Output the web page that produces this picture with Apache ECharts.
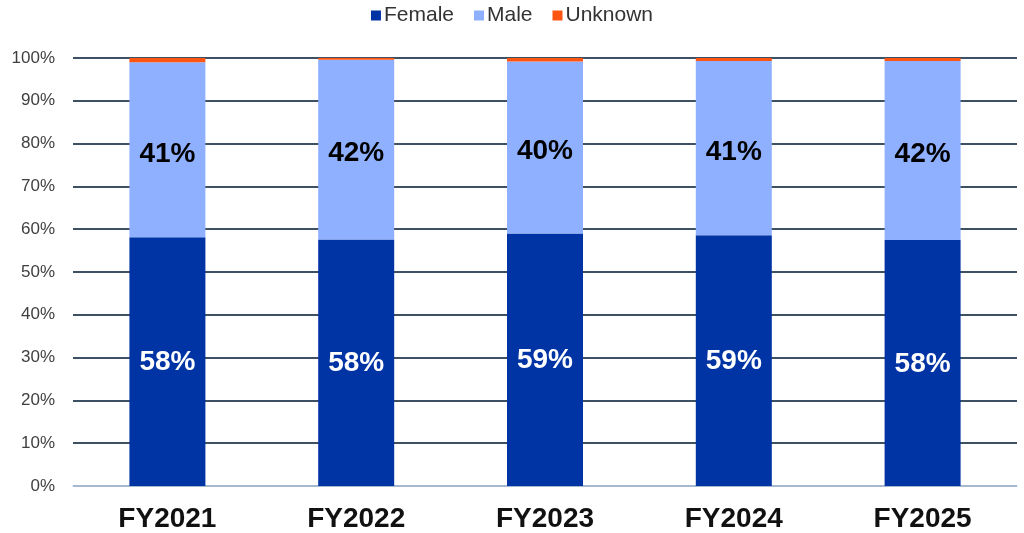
<!DOCTYPE html>
<html><head><meta charset="utf-8">
<script src="https://cdn.jsdelivr.net/npm/echarts@6/dist/echarts.min.js"></script>
<style>html,body{margin:0;padding:0;background:#fff}#c{width:1024px;height:533px}</style>
</head><body><div id="c"></div>
<script>
const categories = ['FY2021','FY2022','FY2023','FY2024','FY2025'];
const female = [58.1, 57.6, 59.0, 58.6, 57.5];
const male = [40.9, 42.0, 40.2, 40.7, 41.8];
const unknown = [1.0, 0.4, 0.8, 0.7, 0.7];
const yTicks = [0,10,20,30,40,50,60,70,80,90,100];

const FONT = 'Liberation Sans, Arial, sans-serif';
const chart = echarts.init(document.getElementById('c'));
const lbl = (color, off) => ({
  show: true, position: 'inside', color: color, fontFamily: FONT,
  fontWeight: 'bold', fontSize: 28, offset: off,
  formatter: p => Math.round(p.value) + '%'
});
chart.setOption({
  animation: false,
  legend: {
    top: 0, left: 'center', itemWidth: 10, itemHeight: 10, itemGap: 20, icon: 'rect',
    textStyle: { fontFamily: FONT, fontSize: 21, color: '#333', padding: [0,0,0,-2] },
    data: ['Female','Male','Unknown']
  },
  grid: { left: 73, right: 7, top: 58, bottom: 47 },
  xAxis: {
    type: 'category', data: categories,
    axisLine: { lineStyle: { color: '#c6dcf5', width: 1.5 } },
    axisTick: { show: false },
    axisLabel: { color: '#111', fontWeight: 'bold', fontSize: 28, margin: 19, fontFamily: FONT }
  },
  yAxis: {
    type: 'value', min: 0, max: 100, interval: 10,
    axisLabel: { color: '#404040', fontSize: 17, margin: 18, fontFamily: FONT,
      formatter: v => yTicks.includes(v) ? v + '%' : '' },
    splitLine: { lineStyle: { color: '#3e5063', width: 2 } },
    axisLine: { show: false }, axisTick: { show: false }
  },
  series: [
    { name: 'Female', type: 'bar', stack: 's', data: female, barWidth: 76,
      itemStyle: { color: '#0033a3' }, label: lbl('#ffffff', [0, 1]) },
    { name: 'Male', type: 'bar', stack: 's', data: male, barWidth: 76,
      itemStyle: { color: '#8fb0ff' }, label: lbl('#000000', [0, 4]) },
    { name: 'Unknown', type: 'bar', stack: 's', data: unknown, barWidth: 76,
      itemStyle: { color: '#ff5512' } }
  ]
});
</script></body></html>
